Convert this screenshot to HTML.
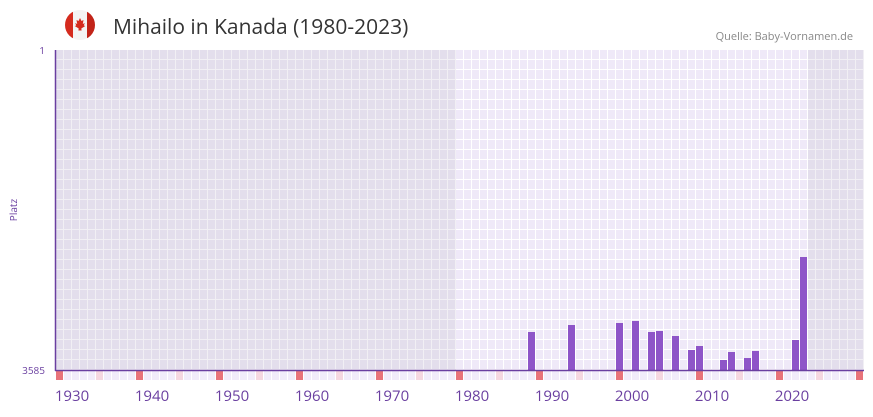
<!DOCTYPE html>
<html><head><meta charset="utf-8"><style>
body{margin:0;background:#fff;width:873px;height:412px;overflow:hidden;font-family:"Open Sans","Liberation Sans",sans-serif}
</style></head><body>
<svg width="873" height="412" xmlns="http://www.w3.org/2000/svg">
<defs>
<pattern id="pd" x="56" y="50" width="8" height="10" patternUnits="userSpaceOnUse">
<rect width="8" height="10" fill="#f1eff4"/><rect width="7" height="9" fill="#e3deec"/></pattern>
<pattern id="pl" x="56" y="50" width="8" height="10" patternUnits="userSpaceOnUse">
<rect width="8" height="10" fill="#ffffff"/><rect width="7" height="9" fill="#efe9f8"/></pattern>
<pattern id="ps" x="56" y="371" width="8" height="9" patternUnits="userSpaceOnUse">
<rect width="8" height="9" fill="#fff"/><rect width="7" height="9" fill="#f1ecfa"/></pattern>
<clipPath id="fc"><circle cx="80" cy="25" r="15"/></clipPath>
</defs>
<g clip-path="url(#fc)">
<rect x="65" y="10" width="30" height="30" fill="#f4f4f4"/>
<rect x="65" y="10" width="8" height="30" fill="#d52b1e"/>
<rect x="87" y="10" width="8" height="30" fill="#c22419"/>
</g>
<path d="M80,18 l1.5,3 2-1 -0.7,4 2-1 -1,2.5 1.5,0.5 -4,2.5 0.3,2 h-3.2 l0.3,-2 -4,-2.5 1.5,-0.5 -1,-2.5 2,1 -0.7,-4 2,1Z" fill="#d52b1e"/>
<text x="113" y="34" font-size="21" fill="#333">Mihailo in Kanada (1980-2023)</text>
<text x="853" y="40" font-size="11" fill="#888" text-anchor="end">Quelle: Baby-Vornamen.de</text>
<rect x="56" y="50" width="400" height="320" fill="url(#pd)"/>
<rect x="456" y="50" width="352" height="320" fill="url(#pl)"/>
<rect x="808" y="50" width="56" height="320" fill="url(#pd)"/>
<rect x="56" y="371" width="808" height="9" fill="url(#ps)"/>
<g fill="#e8737a">
<rect x="56" y="371" width="7" height="9"/><rect x="136" y="371" width="7" height="9"/><rect x="216" y="371" width="7" height="9"/><rect x="296" y="371" width="7" height="9"/><rect x="376" y="371" width="7" height="9"/><rect x="456" y="371" width="7" height="9"/><rect x="536" y="371" width="7" height="9"/><rect x="616" y="371" width="7" height="9"/><rect x="696" y="371" width="7" height="9"/><rect x="776" y="371" width="7" height="9"/><rect x="856" y="371" width="7" height="9"/></g>
<g fill="#f5d7e0">
<rect x="96" y="371" width="7" height="9"/><rect x="176" y="371" width="7" height="9"/><rect x="256" y="371" width="7" height="9"/><rect x="336" y="371" width="7" height="9"/><rect x="416" y="371" width="7" height="9"/><rect x="496" y="371" width="7" height="9"/><rect x="576" y="371" width="7" height="9"/><rect x="656" y="371" width="7" height="9"/><rect x="736" y="371" width="7" height="9"/><rect x="816" y="371" width="7" height="9"/></g>
<g fill="#8e55c8">
<rect x="528" y="332" width="7" height="38"/><rect x="568" y="325" width="7" height="45"/><rect x="616" y="323" width="7" height="47"/><rect x="632" y="321" width="7" height="49"/><rect x="648" y="332" width="7" height="38"/><rect x="656" y="331" width="7" height="39"/><rect x="672" y="336" width="7" height="34"/><rect x="688" y="350" width="7" height="20"/><rect x="696" y="346" width="7" height="24"/><rect x="720" y="360" width="7" height="10"/><rect x="728" y="352" width="7" height="18"/><rect x="744" y="358" width="7" height="12"/><rect x="752" y="351" width="7" height="19"/><rect x="792" y="340" width="7" height="30"/><rect x="800" y="257" width="7" height="113"/></g>
<line x1="55.5" y1="50" x2="55.5" y2="371" stroke="#6a3fa0" stroke-width="1.5"/>
<line x1="55" y1="370.5" x2="864" y2="370.5" stroke="#6a3fa0" stroke-width="1.5"/>
<text x="45" y="54" font-size="10" fill="#6a3fa0" text-anchor="end">1</text>
<text x="45" y="374" font-size="10" fill="#6a3fa0" text-anchor="end">3585</text>
<text x="17" y="210" font-size="10" fill="#6a3fa0" text-anchor="middle" transform="rotate(-90 17 210)">Platz</text>
<g font-size="15" fill="#6a3fa0" text-anchor="middle">
<text x="72" y="401">1930</text><text x="152" y="401">1940</text><text x="232" y="401">1950</text><text x="312" y="401">1960</text><text x="392" y="401">1970</text><text x="472" y="401">1980</text><text x="552" y="401">1990</text><text x="632" y="401">2000</text><text x="712" y="401">2010</text><text x="792" y="401">2020</text></g>
</svg>
</body></html>
